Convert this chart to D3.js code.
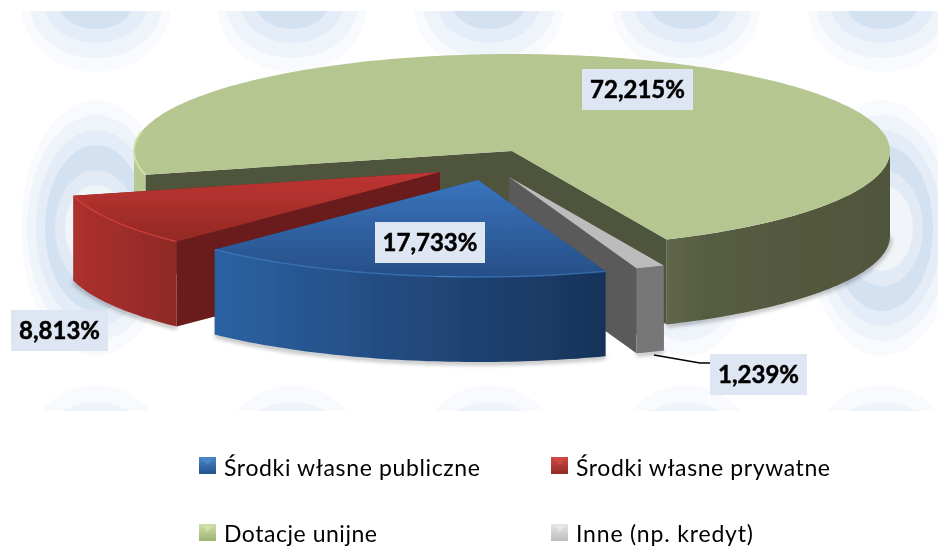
<!DOCTYPE html>
<html><head><meta charset="utf-8">
<style>html,body{margin:0;padding:0;background:#fff}svg{display:block}text{font-family:Lato,"Open Sans",sans-serif}</style>
<script src="https://cdn.jsdelivr.net/npm/d3@7/dist/d3.min.js"></script>
</head><body>
<svg id="c" width="938" height="547"></svg>
<script>
// --- data ---
const categories = ["Środki własne publiczne", "Środki własne prywatne", "Dotacje unijne", "Inne (np. kredyt)"];
const shares = [17.733, 8.813, 72.215, 1.239];
const valueLabels = ["17,733%", "8,813%", "72,215%", "1,239%"];

// --- layout and style ---
const W = 938, H = 547;
const pieStart = 160.3 * Math.PI / 180;
const RX = 378, RY = 97, DEPTH = 85;
const centers = [[478, 180], [440, 172], [512, 151], [509, 177]];
const drawOrder = [2, 3, 1, 0];
const looks = [
  {top:["#3a74bd","#264f87"], wall:[[0,"#2c62a3"],[.45,"#234c80"],[1,"#17335a"]], cut:"#1f4068", bevel:"#4585cf", bevelOp:.6},
  {top:["#c03532","#932925"], wall:[[0,"#ad302d"],[1,"#8e2a27"]], cut:"#6a1b1a", bevel:"#d8433e", bevelOp:.8},
  {top:["#b5c690","#b5c690"], wall:[[0,"#b8c996"],[.016,"#b8c996"],[.0161,"#50553c"],[.68,"#50553c"],[.7,"#606749"],[.76,"#565c41"],[1,"#50553c"]], cut:"#50553c", bevel:"#d3e3a6", bevelOp:0},
  {top:["#bcbcbc","#bcbcbc"], wall:[[0,"#777777"],[1,"#777777"]], cut:"#5a5a5a", bevel:"#bcbcbc", bevelOp:0}
];
const boxes = [[375,222,110,41],[11,310,97,41],[582,69,111,41],[710,354,97,41]];
const leader = [[654,355],[700,363],[710,363]];
const legendCells = [[199,457,224,476,256],[551,457,576,476,254],[199,524,224,542,153],[551,524,576,542,177]];
const legendColors = [["#4a86c8","#24528c"],["#d04a46","#8f2a27"],["#cfe0a6","#9db372"],["#e6e6e6","#bdbdbd"]];

// background pattern
const ringCols = [96,292,489,686,882];
const ringRows = [
  {cy:5,   radii:[[75,67],[66,53],[51,38],[36,24]]},
  {cy:228, radii:[[75,128],[69,113],[60,98],[51,83],[41,58],[31,43]]},
  {cy:466, radii:[[75,81],[66,64],[51,46],[36,29]]}
];
const ringFills = ["#f8fafd","#eff4fa","#e4ecf7","#d3e1f1","#e2ebf5","#f1f5f9"];

const svg = d3.select("#c");
const defs = svg.append("defs");
defs.append("filter").attr("id","soft").attr("filterUnits","userSpaceOnUse").attr("x",0).attr("y",0).attr("width",W).attr("height",H).append("feGaussianBlur").attr("stdDeviation",.55);
defs.append("filter").attr("id","ringsoft").attr("filterUnits","userSpaceOnUse").attr("x",0).attr("y",-100).attr("width",W).attr("height",H+200).append("feGaussianBlur").attr("stdDeviation",.7);
defs.append("filter").attr("id","shadow").attr("filterUnits","userSpaceOnUse").attr("x",0).attr("y",0).attr("width",W).attr("height",H).append("feGaussianBlur").attr("stdDeviation",2.2);
defs.append("clipPath").attr("id","bgclip").append("rect").attr("x",21).attr("y",11).attr("width",W-21).attr("height",400);

// rings
const bg = svg.append("g").attr("clip-path","url(#bgclip)").append("g").attr("filter","url(#ringsoft)");
ringRows.forEach(row => ringCols.forEach(cx => {
  row.radii.forEach((r,i) => bg.append("ellipse").attr("cx",cx).attr("cy",row.cy).attr("rx",r[0]).attr("ry",r[1]).attr("fill",ringFills[i]));
}));

const shadows = svg.append("g");
const root = svg.append("g").attr("filter","url(#soft)");

const slices = d3.pie().sort(null).value(d=>d).startAngle(pieStart).endAngle(pieStart+2*Math.PI)(shares);
const xs = d3.scaleLinear().domain([-1,1]).range([-RX,RX]);
const ys = d3.scaleLinear().domain([-1,1]).range([-RY,RY]);
const line = d3.line();
const pt = (i,a,dy=0) => [centers[i][0]+xs(Math.sin(a)), centers[i][1]+ys(-Math.cos(a))+dy];
const arcPts = (i,a0,a1,dy=0) => { const n=Math.max(2,Math.ceil(Math.abs(a1-a0)/0.02)); return d3.range(n+1).map(k=>pt(i,a0+(a1-a0)*k/n,dy)); };
function frontRanges(a0,a1){
  const out=[]; const lo=Math.PI/2, hi=3*Math.PI/2;
  for(let k=-1;k<=1;k++){ const s=Math.max(a0,lo+2*Math.PI*k), e=Math.min(a1,hi+2*Math.PI*k); if(e>s) out.push([s,e]); }
  return out;
}

// soft shadow under the outer walls
slices.forEach((s,i)=>{
  frontRanges(s.startAngle,s.endAngle).forEach(r=>{
    shadows.append("path").attr("d",line(arcPts(i,r[0],r[1],DEPTH+1))).attr("fill","none").attr("stroke","#444").attr("stroke-width",3).attr("opacity",.5).attr("filter","url(#shadow)");
  });
});

drawOrder.forEach(i=>{
  const s=slices[i], lk=looks[i], c=centers[i], g=root.append("g");
  const topGrad=defs.append("linearGradient").attr("id","top"+i).attr("x1",0).attr("x2",0).attr("y1",0).attr("y2",1);
  topGrad.append("stop").attr("offset",0).attr("stop-color",lk.top[0]);
  topGrad.append("stop").attr("offset",1).attr("stop-color",lk.top[1]);
  [s.endAngle,s.startAngle].forEach(a=>{
    const p=pt(i,a), q=pt(i,a,DEPTH);
    g.append("path").attr("d",line([c,p,q,[c[0],c[1]+DEPTH]])+"Z").attr("fill",lk.cut);
  });
  const wallGrad=defs.append("linearGradient").attr("id","wall"+i).attr("gradientUnits","userSpaceOnUse");
  const rng=frontRanges(s.startAngle,s.endAngle);
  const ptsAll=rng.flatMap(r=>arcPts(i,r[0],r[1]));
  const ext=d3.extent(ptsAll,d=>d[0]);
  wallGrad.attr("x1",ext[0]).attr("x2",ext[1]).attr("y1",0).attr("y2",0);
  lk.wall.forEach(st=>wallGrad.append("stop").attr("offset",st[0]).attr("stop-color",st[1]));
  rng.forEach(r=>{
    const up=arcPts(i,r[0],r[1]), dn=arcPts(i,r[1],r[0],DEPTH);
    g.append("path").attr("d",line(up.concat(dn))+"Z").attr("fill",`url(#wall${i})`);
  });
  g.append("path").attr("d",line([c].concat(arcPts(i,s.startAngle,s.endAngle)))+"Z").attr("fill",`url(#top${i})`);
  if(lk.bevelOp>0) g.append("path").attr("d",line(arcPts(i,s.startAngle,s.endAngle))).attr("fill","none").attr("stroke",lk.bevel).attr("stroke-width",1.4).attr("opacity",lk.bevelOp);
});
root.append("path").attr("d",line(arcPts(2,slices[2].startAngle,slices[2].startAngle+0.45))).attr("fill","none").attr("stroke","#d3e3a6").attr("stroke-width",2);

root.append("path").attr("d",line(leader)).attr("fill","none").attr("stroke","#000").attr("stroke-width",1.5);

const lab=root.append("g");
boxes.forEach((b,i)=>{
  lab.append("rect").attr("x",b[0]).attr("y",b[1]).attr("width",b[2]).attr("height",b[3]).attr("fill","#dfe6f3");
  lab.append("text").attr("x",b[0]+b[2]/2).attr("y",b[1]+29).attr("text-anchor","middle").attr("font-size",24).attr("font-weight",700).attr("fill","#000").attr("stroke","#000").attr("stroke-width",.5).text(valueLabels[i]);
});

const leg=root.append("g");
categories.forEach((name,i)=>{
  const m=legendCells[i], col=legendColors[i];
  const gr=defs.append("linearGradient").attr("id","sw"+i).attr("x1",0).attr("x2",0).attr("y1",0).attr("y2",1);
  gr.append("stop").attr("offset",0).attr("stop-color",col[0]);
  gr.append("stop").attr("offset",1).attr("stop-color",col[1]);
  leg.append("rect").attr("x",m[0]).attr("y",m[1]).attr("width",17).attr("height",17).attr("fill",`url(#sw${i})`);
  leg.append("path").attr("d",line([[m[0]+3,m[1]+2],[m[0]+14,m[1]+2],[m[0]+8.5,m[1]+8]])+"Z").attr("fill",col[0]).attr("opacity",.85);
  leg.append("text").attr("x",m[2]).attr("y",m[3]).attr("font-size",23).attr("fill","#000").attr("textLength",m[4]).attr("lengthAdjust","spacing").text(name);
});
</script>
</body></html>
